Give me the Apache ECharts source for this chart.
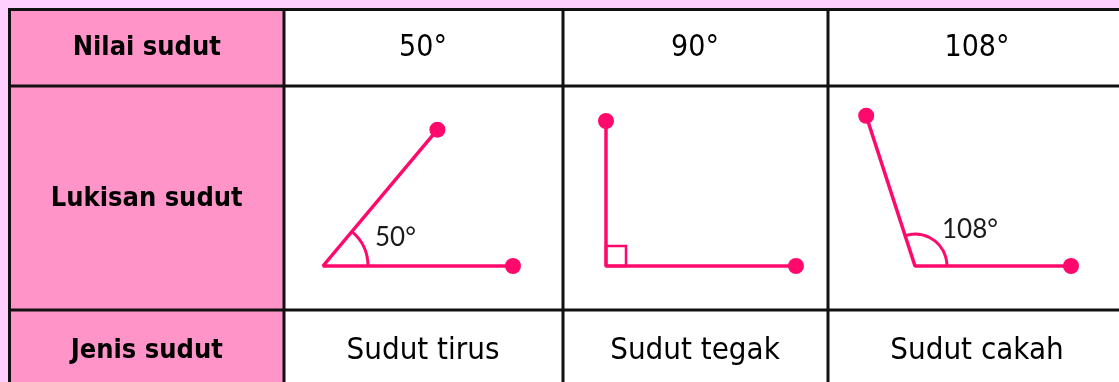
<!DOCTYPE html>
<html>
<head>
<meta charset="utf-8">
<script src="https://cdn.jsdelivr.net/npm/echarts@6/dist/echarts.min.js"></script>
<style>
html,body{margin:0;padding:0;background:#fdd0fd;}
#main{width:1119px;height:382px;}
</style>
</head>
<body>
<div id="main"></div>
<script>
var rowLabels=['Nilai sudut','Lukisan sudut','Jenis sudut'];
var angleValues=[50,90,108];
var angleNames=['Sudut tirus','Sudut tegak','Sudut cakah'];

var PINK='#ff0a6c';
var LINE='#111111';
var FONT="'Liberation Sans Narrow','DejaVu Sans Condensed','Liberation Sans',sans-serif";

// table layout (px)
var colX=[9.5,284,563,828,1130];
var rowY=[9.5,86,310,395];
// where each angle is drawn inside its cell
var figs=[
    {vx:323,vy:266,ray:178,base:190,arc:45,lx:375,ly:238},
    {vx:606,vy:266,ray:145,base:190,sq:20},
    {vx:915,vy:266,ray:158,base:156,arc:32,lx:942,ly:230}
];

var myChart=echarts.init(document.getElementById('main'));

//table cells, borders and texts
var graphic=[];
graphic.push({type:'rect',z:0,shape:{x:colX[0],y:rowY[0],width:colX[4]-colX[0],height:rowY[3]-rowY[0]},style:{fill:'#fff'}});
graphic.push({type:'rect',z:0,shape:{x:colX[0],y:rowY[0],width:colX[1]-colX[0],height:rowY[3]-rowY[0]},style:{fill:'#ff94c8'}});
for(var r=0;r<3;r++){
    graphic.push({type:'line',z:1,shape:{x1:colX[0]-1.5,y1:rowY[r],x2:colX[4],y2:rowY[r]},style:{stroke:LINE,lineWidth:3}});
}
for(var c=0;c<4;c++){
    graphic.push({type:'line',z:1,shape:{x1:colX[c],y1:rowY[0]-1.5,x2:colX[c],y2:rowY[3]},style:{stroke:LINE,lineWidth:3}});
}
var rowMid=[48,199,351];
for(var r=0;r<3;r++){
    graphic.push({type:'text',z:2,x:(colX[0]+colX[1])/2,y:rowMid[r],style:{text:rowLabels[r],font:'bold 27px '+FONT,fill:'#000',align:'center',verticalAlign:'middle'}});
}
var colMid=[423,695,977];
for(var c=0;c<3;c++){
    graphic.push({type:'text',z:2,x:colMid[c],y:rowMid[0],style:{text:angleValues[c]+'°',font:'30px '+FONT,fill:'#000',align:'center',verticalAlign:'middle'}});
    graphic.push({type:'text',z:2,x:colMid[c],y:rowMid[2],style:{text:angleNames[c],font:'31px '+FONT,fill:'#000',align:'center',verticalAlign:'middle'}});
}

//rays from angle values
var series=[];
for(var i=0;i<angleValues.length;i++){
    var f=figs[i];
    var rad=angleValues[i]*Math.PI/180;
    series.push({
        type:'line',
        z:5,
        silent:true,
        symbol:'circle',
        symbolSize:16,
        showAllSymbol:true,
        itemStyle:{color:PINK},
        lineStyle:{color:PINK,width:3.5},
        data:[
            [f.vx+f.ray*Math.cos(rad),f.vy-f.ray*Math.sin(rad)],
            {value:[f.vx,f.vy],symbol:'none'},
            [f.vx+f.base,f.vy]
        ]
    });
}

//arc marks, right angle box and angle labels
series.push({
    type:'custom',
    z:6,
    silent:true,
    data:angleValues.map(function(v,i){return [figs[i].vx,figs[i].vy,v];}),
    renderItem:function(params,api){
        var i=params.dataIndex;
        var f=figs[i];
        var a=api.value(2);
        var p=api.coord([api.value(0),api.value(1)]);
        var kids=[];
        if(a===90){
            kids.push({type:'rect',shape:{x:p[0],y:p[1]-f.sq,width:f.sq,height:f.sq},style:{fill:null,stroke:PINK,lineWidth:2.5}});
        }
        else{
            kids.push({type:'arc',shape:{cx:p[0],cy:p[1],r:f.arc,startAngle:-a*Math.PI/180,endAngle:0,clockwise:true},style:{fill:null,stroke:PINK,lineWidth:3}});
            var lp=api.coord([f.lx,f.ly]);
            kids.push({type:'text',x:lp[0],y:lp[1],style:{text:a+'°',font:'26px Lato,sans-serif',fill:'#1a1a1a',align:'left',verticalAlign:'middle'}});
        }
        return {type:'group',children:kids};
    }
});

var option={
    animation:false,
    backgroundColor:'#fdd0fd',
    grid:{left:0,right:0,top:0,bottom:0},
    xAxis:{type:'value',min:0,max:1119,show:false},
    yAxis:{type:'value',min:0,max:382,inverse:true,show:false},
    graphic:graphic,
    series:series
};
myChart.setOption(option);
</script>
</body>
</html>
